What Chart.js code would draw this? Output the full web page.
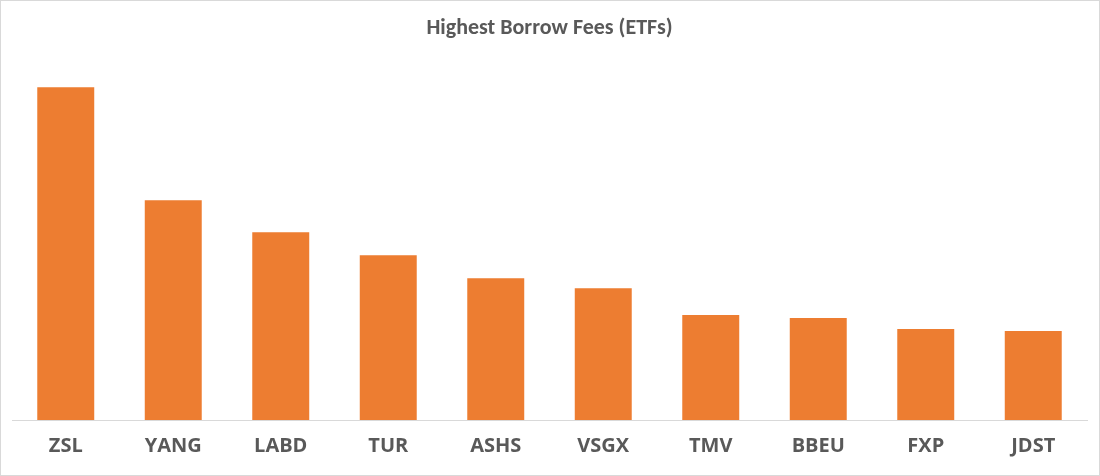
<!DOCTYPE html>
<html><head><meta charset="utf-8">
<script src="https://cdn.jsdelivr.net/npm/chart.js@4"></script>
<style>html,body{margin:0;padding:0;background:#fff}
#w{position:relative;width:1098px;height:474px;border:1px solid #d9d9d9}</style>
</head><body><div id="w"><canvas id="c"></canvas></div>
<script>
const categories=["ZSL","YANG","LABD","TUR","ASHS","VSGX","TMV","BBEU","FXP","JDST"];
const fees=[333,220,188,165,142,132,105,102,91,89];
new Chart(document.getElementById('c'),{
type:'bar',
data:{labels:categories,datasets:[{data:fees,backgroundColor:'#ED7D31',barPercentage:0.53,categoryPercentage:1}]},
options:{responsive:true,maintainAspectRatio:false,animation:false,
layout:{padding:{left:11,right:12,top:12,bottom:3}},
plugins:{legend:{display:false},tooltip:{enabled:false},
title:{display:true,text:'Highest Borrow Fees (ETFs)',color:'#595959',font:{family:'Calibri, Carlito, "Open Sans", sans-serif',size:22,weight:'bold'},padding:{top:2,bottom:20}}},
scales:{x:{grid:{display:false,drawTicks:false},border:{color:'#d9d9d9'},ticks:{color:'#595959',padding:14,font:{family:'"Open Sans", sans-serif',size:20,weight:'bold'}}},
y:{display:false,min:0,max:359}}}
});
</script></body></html>
